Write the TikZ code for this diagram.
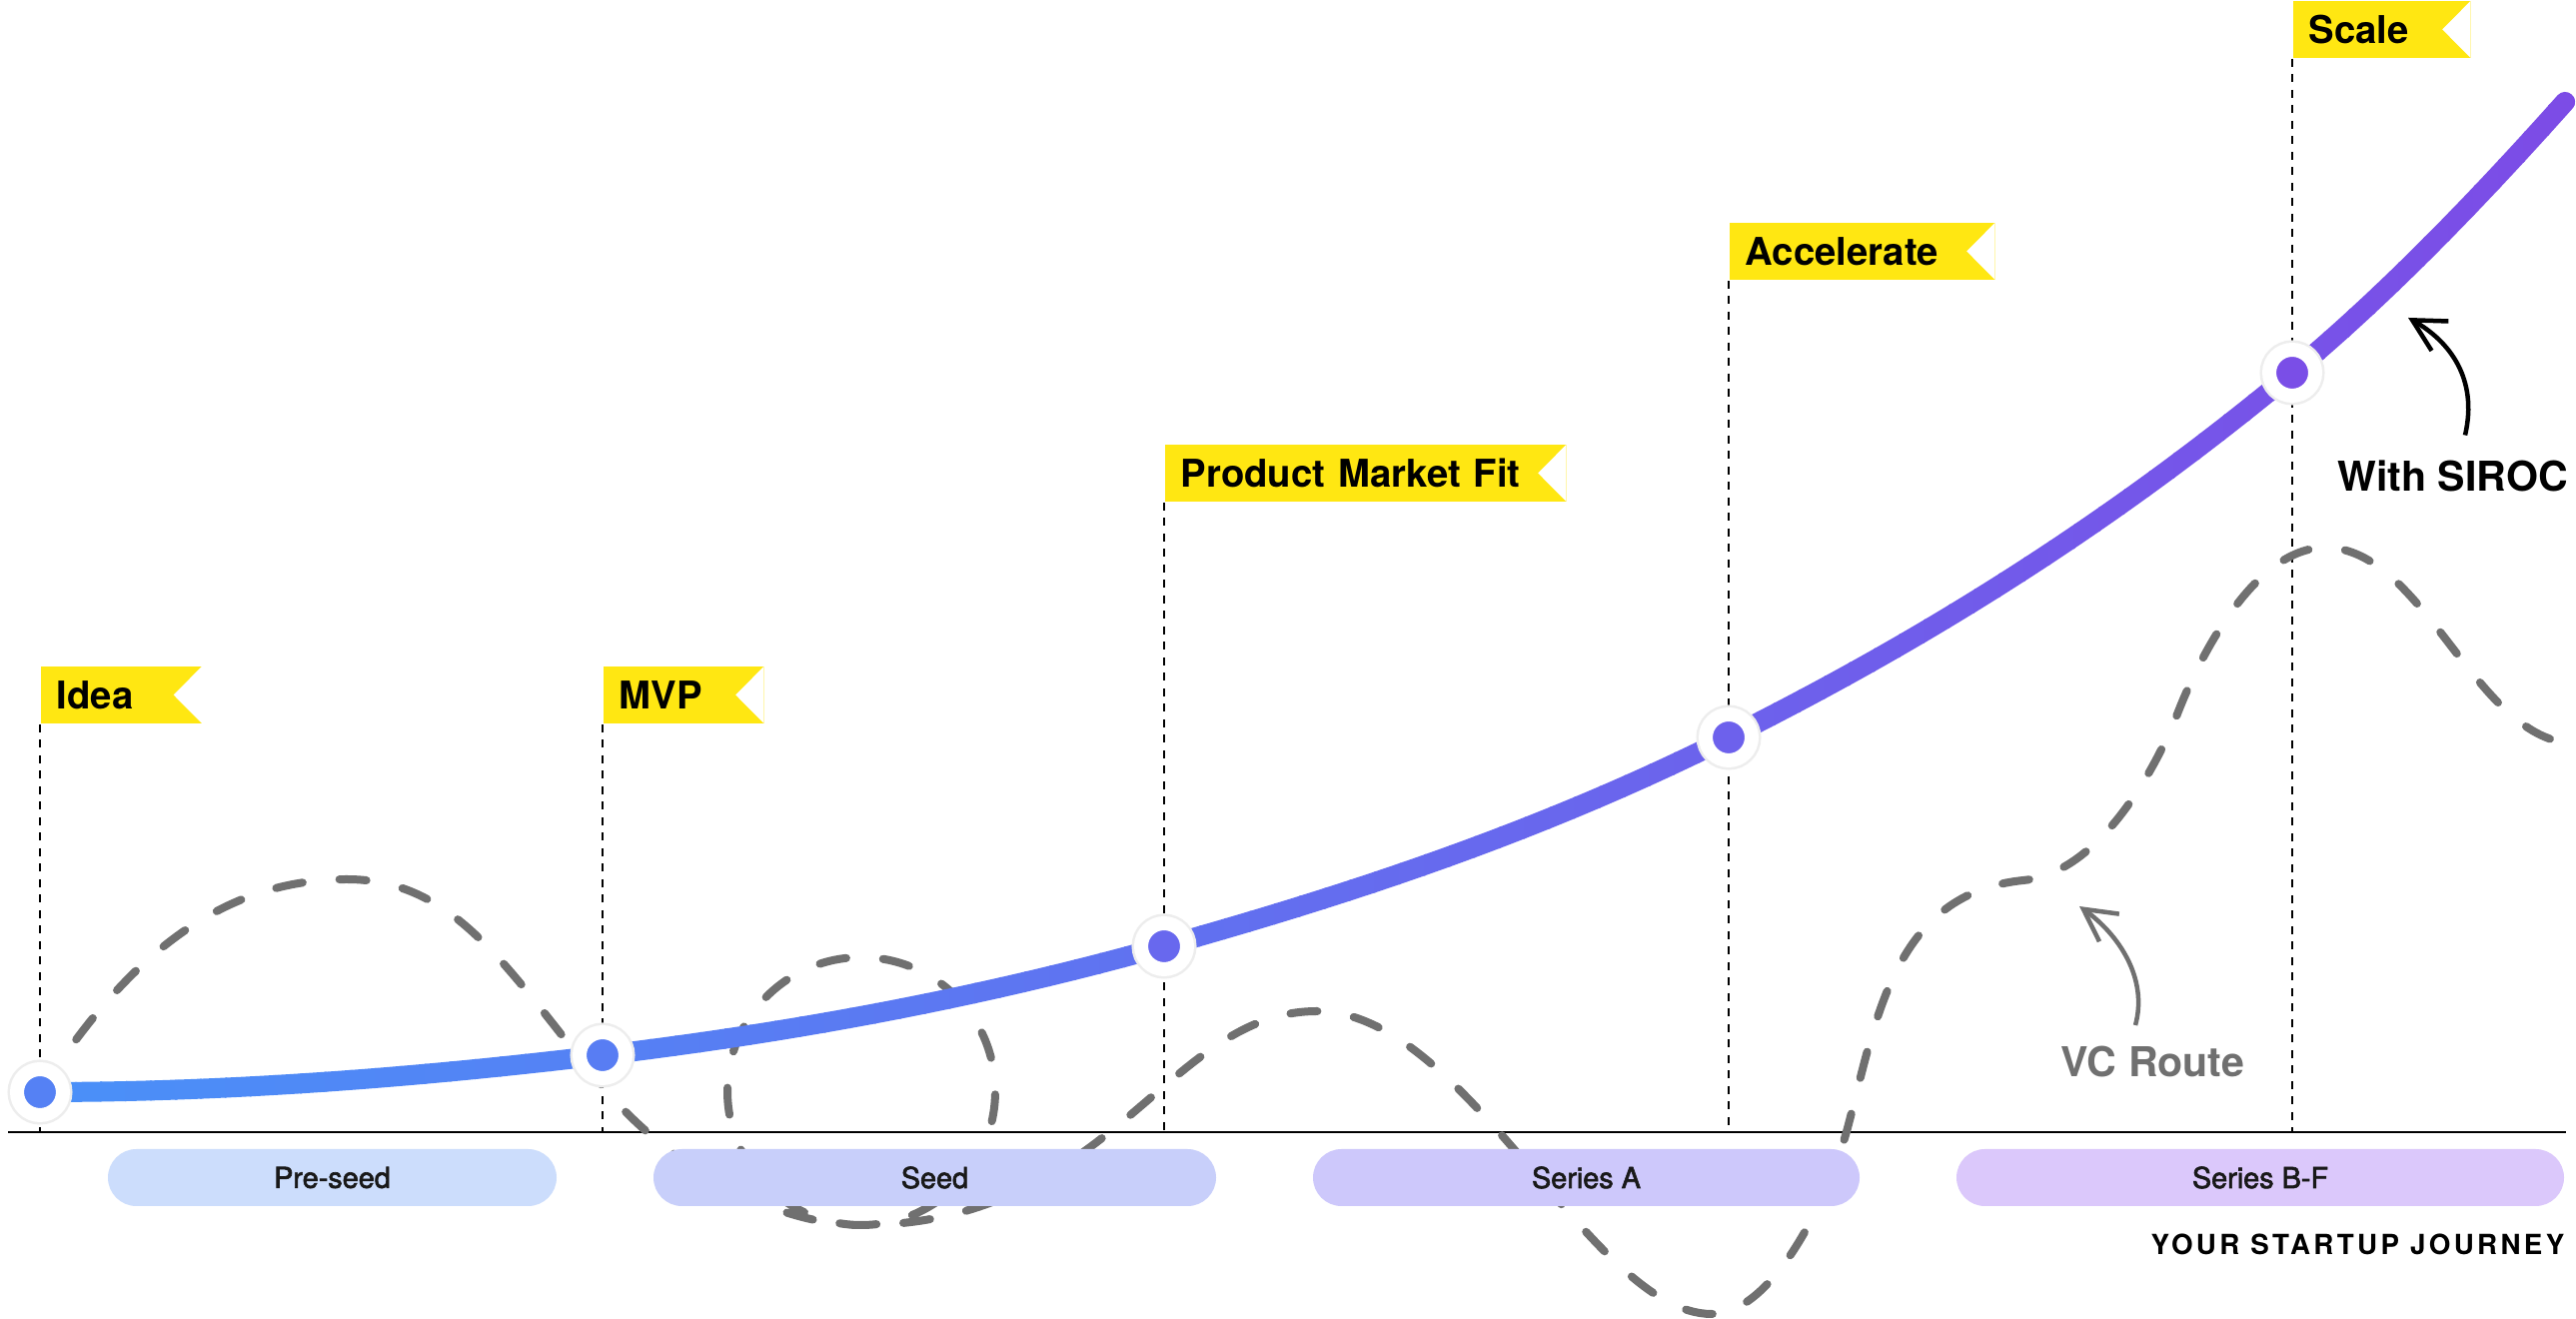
\documentclass[tikz,border=0pt]{standalone}
\usepackage{fontspec}
\setmainfont{TeX Gyre Heros}
\newfontfamily\trackedfont[LetterSpace=12]{TeX Gyre Heros}
\newfontfamily\mediumfont[FakeBold=2.2]{TeX Gyre Heros}
\usepackage{tikz}
\usetikzlibrary{arrows.meta}
\usepackage{xcolor}
\definecolor{FlagYellow}{RGB}{255,231,18}
\definecolor{StartBlue}{RGB}{74,144,248}
\definecolor{EndPurple}{RGB}{125,75,230}
\definecolor{RouteGray}{RGB}{112,112,112}
\definecolor{PreseedFill}{RGB}{204,221,252}
\definecolor{SeedFill}{RGB}{200,207,250}
\definecolor{SeriesAFill}{RGB}{205,200,251}
\definecolor{SeriesBFill}{RGB}{219,200,251}
\newcommand{\growthcurve}{(mIdea) .. controls +(1.88,0) and +(-1.88,-0.226) .. (mMVP) .. controls +(1.873,0.225) and +(-1.873,-0.524) .. (mPMF) .. controls +(1.88,0.526) and +(-1.88,-0.94) .. (mAcc) .. controls +(1.887,0.943) and +(-1.887,-1.566) .. (mScale) .. controls +(0.907,0.753) and +(-0.907,-1.016) .. (mEnd)}

\begin{document}
\begin{tikzpicture}[
    flag/.style={fill=FlagYellow,anchor=north west,minimum height=0.575cm,inner xsep=0.16cm,inner ysep=0pt,text height=0.275cm,text depth=0pt,align=left,font=\bfseries\fontsize{10.9}{13}\selectfont,
      path picture={\fill[white] (path picture bounding box.north east) -- (path picture bounding box.south east) -- ([xshift=-0.285cm]path picture bounding box.east) -- cycle;}},
    guide/.style={draw=black,line width=0.02cm,dash pattern=on 0.08cm off 0.075cm},
    phase/.style={fill=#1,rounded corners=0.285cm,minimum height=0.57cm,inner sep=0pt,text=black!90,font=\mediumfont\fontsize{8.2}{10}\selectfont},
    stage/.style={circle,fill=#1,draw=white,line width=0.14cm,minimum size=0.46cm,inner sep=0pt,preaction={draw=black!7,line width=0.19cm}},
    growth line/.style={line width=0.2cm,line cap=round,line join=round},
    vc route/.style={draw=RouteGray,line width=0.08cm,line cap=round,dash pattern=on 0.27cm off 0.37cm},
    note arrow/.style={line width=0.045cm,-{Straight Barb[length=0.32cm,width=0.34cm]}},
    callout/.style={font=\bfseries\fontsize{11.7}{14}\selectfont,text height=0.296cm,text depth=0pt,inner sep=0.1cm}]
    \useasboundingbox (0,0) rectangle (25.78,13.2);
    \fill[white] (0,0) rectangle (25.78,13.2);

    \coordinate (mIdea) at (0.40,2.27);
    \coordinate (mMVP) at (6.03,2.64);
    \coordinate (mPMF) at (11.65,3.73);
    \coordinate (mAcc) at (17.30,5.82);
    \coordinate (mScale) at (22.94,9.47);
    \coordinate (mEnd) at (25.67,12.18);
    \coordinate (axisL) at (0.08,1.87);
    \coordinate (axisR) at (25.68,1.87);

    \draw[line width=0.027cm] (axisL) -- (axisR);

    \node[flag,text width=1.295cm] (fIdea) at (0.40,6.54) {Idea};
    \node[flag,text width=1.29cm] (fMVP) at (6.03,6.54) {MVP};
    \node[flag,text width=3.70cm] (fPMF) at (11.65,8.76) {Product Market Fit};
    \node[flag,text width=2.34cm] (fAcc) at (17.30,10.98) {Accelerate};
    \node[flag,text width=1.46cm] (fScale) at (22.94,13.2) {Scale};
    \foreach \f in {fIdea,fMVP,fPMF,fAcc,fScale}
        \draw[guide] (\f.south west) -- (\f.south west |- axisL);

    % the VC route, with its loop
    \draw[vc route] (mIdea) .. controls (1.31,3.70) and (2.27,4.40) .. (3.47,4.40)
        .. controls (4.57,4.40) and (5.08,3.49) .. (6.03,2.33)
        .. controls (6.66,1.56) and (7.72,0.94) .. (8.62,0.94)
        arc[start angle=-90,end angle=270,radius=1.34]
        .. controls (11.12,0.94) and (11.68,3.08) .. (13.18,3.08)
        .. controls (14.68,3.08) and (15.93,0.05) .. (17.13,0.05)
        .. controls (17.73,0.05) and (18.30,1.18) .. (18.50,1.95)
        .. controls (18.78,3.01) and (18.96,4.26) .. (20.25,4.39)
        .. controls (21.05,4.47) and (21.62,5.61) .. (21.80,6.08)
        .. controls (22.02,6.64) and (22.57,7.72) .. (23.27,7.72)
        .. controls (24.27,7.72) and (24.78,5.76) .. (25.78,5.76);

    \node[phase=PreseedFill,minimum width=4.49cm] (preseed) at (3.325,1.415) {Pre-seed};
    \node[phase=SeedFill,minimum width=5.63cm] (seed) at (9.355,1.415) {Seed};
    \node[phase=SeriesAFill,minimum width=5.47cm] (seriesA) at (15.875,1.415) {Series A};
    \node[phase=SeriesBFill,minimum width=6.08cm] (seriesB) at (22.62,1.415) {Series B-F};

    % growth curve, coloured strip by strip
    \foreach \i in {0,...,103} {
        \pgfmathsetmacro{\xa}{0.25*\i}
        \pgfmathtruncatemacro{\pct}{max(0,min(100,(\xa-0.275)*3.96))}
        \begin{scope}
            \clip (\xa,0) rectangle ++(0.27,13.2);
            \draw[growth line,draw=EndPurple!\pct!StartBlue] \growthcurve;
        \end{scope}
    }

    \node[stage=EndPurple!22!StartBlue] (dIdea) at (mIdea) {};
    \node[stage=EndPurple!28!StartBlue] (dMVP) at (mMVP) {};
    \node[stage=EndPurple!58!StartBlue] (dPMF) at (mPMF) {};
    \node[stage=EndPurple!68!StartBlue] (dAcc) at (mAcc) {};
    \node[stage=EndPurple!95!StartBlue] (dScale) at (mScale) {};

    \node[callout] (siroc) at (24.545,8.43) {With SIROC};
    \node[callout,text=RouteGray] (vcLabel) at (21.545,2.575) {VC Route};
    \coordinate (sirocTip) at (24.10,10.02);
    \coordinate (vcTip) at (20.81,4.13);
    \draw[note arrow] ([shift={(0.125,0.16)}]siroc.north) .. controls +(0.13,0.56) and +(0.42,-0.24) .. (sirocTip);
    \draw[note arrow,draw=RouteGray] ([shift={(-0.175,0.11)}]vcLabel.north) .. controls +(0.13,0.47) and +(0.39,-0.28) .. (vcTip);

    \node[anchor=east,inner sep=0pt,text height=0.2cm,text depth=0pt,font=\trackedfont\bfseries\fontsize{7.9}{9}\selectfont] (journey) at (25.67,0.74) {YOUR STARTUP JOURNEY};
\end{tikzpicture}
\end{document}
